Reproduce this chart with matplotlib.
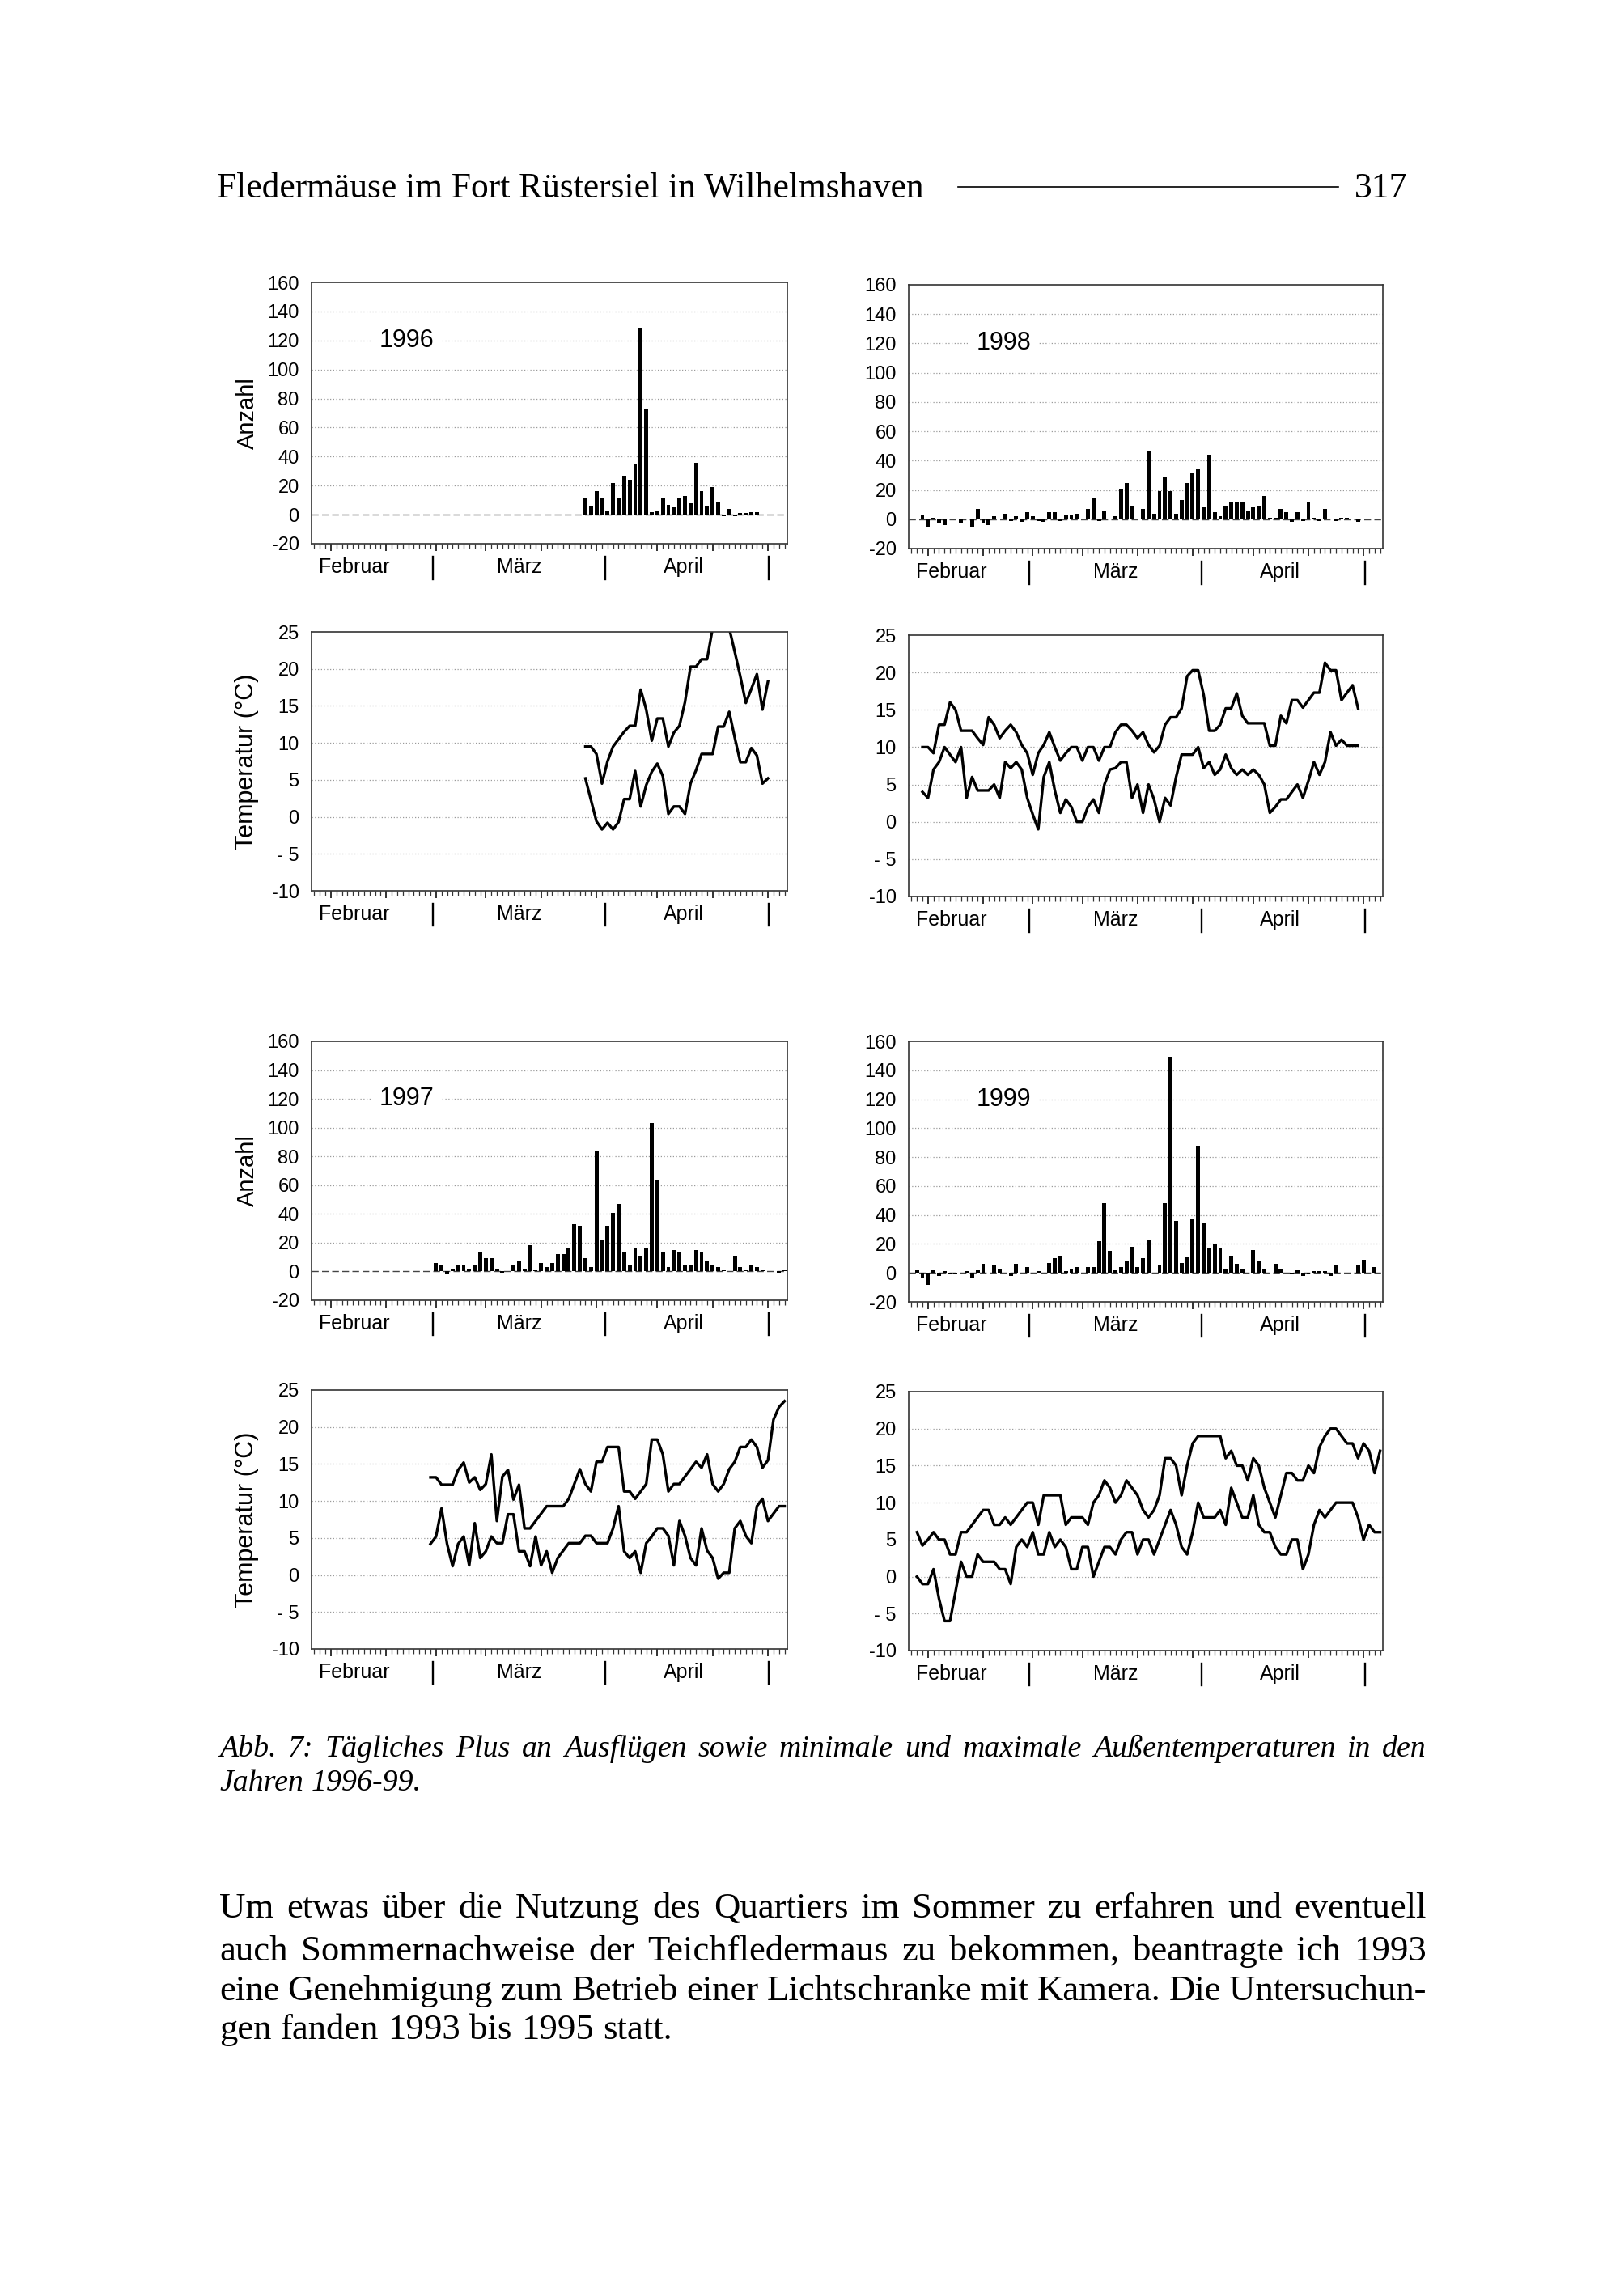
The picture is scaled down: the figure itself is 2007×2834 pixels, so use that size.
import numpy as np
import matplotlib
matplotlib.use("Agg")
import matplotlib.pyplot as plt
import matplotlib.transforms as mtransforms
from matplotlib.lines import Line2D

# x-Achse: ein Tick pro Tag, Index 0 = linker Rand (Anfang Februar)
N_DAYS = 86
MAJOR_DAYS = [3, 13, 22, 31, 41, 51, 62, 72, 82]
MONTHS = ['Februar', 'März', 'April']
MONTH_LABEL_DAY = [7.2, 37.1, 66.8]
MONTH_END_DAY = [21.4, 52.6, 82.2]

# Tägliches Plus an Ausflügen (Anzahl) - erster Tag und Tageswerte
start_1996 = 49
anzahl_1996 = [11, 6, 16, 12, 3, 22, 12, 27, 24, 35, 129, 73, 2, 3, 12, 7, 5, 12, 13, 8,
               36, 16, 6, 19, 9, -1, 4, -1, 1, 1, 2, 2]
start_1997 = 22
anzahl_1997 = [6, 5, -2, 2, 4, 5, 2, 5, 13, 9, 9, 2, -1, 0, 5, 7, 2, 18, 1, 6,
               3, 6, 12, 12, 16, 33, 32, 9, 3, 84, 22, 32, 41, 47, 14, 5, 16, 11, 16, 103,
               63, 14, 3, 15, 14, 5, 5, 15, 13, 7, 5, 3, 1, 0, 11, 3, 1, 4, 3, 1,
               0, 0, -1, 1]
start_1998 = 2
anzahl_1998 = [3, -5, 1, -3, -4, 0, 0, -3, 0, -5, 7, -3, -4, 2, 0, 4, -1, 2, -2, 5,
               2, -1, -2, 5, 5, -1, 3, 3, 4, 0, 7, 14, -1, 6, 0, 2, 21, 25, 9, 0,
               7, 46, 4, 19, 29, 19, 4, 13, 25, 32, 34, 8, 44, 5, 2, 9, 12, 12, 12, 6,
               8, 9, 16, 1, 1, 7, 5, -2, 5, -1, 12, 1, -1, 7, 0, -1, 1, 1, 0, -2, 0]
start_1999 = 1
anzahl_1999 = [2, -3, -8, 2, -2, 1, -1, -1, 0, 1, -3, 2, 6, 0, 5, 3, 0, -2, 6, 0,
               4, 0, 1, 0, 7, 10, 12, 1, 3, 4, 0, 4, 4, 22, 48, 15, 2, 4, 8, 18,
               4, 10, 23, 0, 5, 48, 149, 36, 7, 11, 37, 88, 35, 17, 20, 17, 3, 12, 6, 3,
               0, 16, 8, 3, 0, 6, 3, 0, -1, 2, -2, -1, 1, 1, 1, -2, 5, 0, 0, 0,
               5, 9, 0, 4, 0]

# minimale und maximale Außentemperaturen (°C)
tstart_1996 = 49
tmax_1996 = [9.5, 9.5, 8.5, 4.5, 7.5, 9.5, 10.5, 11.5, 12.3, 12.3, 17.2, 14.5, 10.3, 13.3, 13.3,
             9.5, 11.4, 12.3, 15.5, 20.3, 20.3, 21.3, 21.3, 25.5, 28, 28, 25.5, 22.3, 19, 15.4,
             17.3, 19.3, 14.5, 18.3]
tmin_1996 = [5.2, 2.3, -0.6, -1.7, -0.8, -1.7, -0.7, 2.4, 2.4, 6.2, 1.4, 4.3, 6.1, 7.2, 5.5,
             0.4, 1.4, 1.4, 0.4, 4.5, 6.3, 8.5, 8.5, 8.5, 12.2, 12.2, 14.2, 10.7, 7.4, 7.4,
             9.3, 8.3, 4.5, 5.2]
tstart_1997 = 21
tmax_1997 = [13.2, 13.2, 12.2, 12.2, 12.2, 14.2, 15.2, 12.5, 13.2, 11.5, 12.3, 16.3, 7.3, 13.3, 14.2,
             10.2, 12.2, 6.3, 6.3, 7.3, 8.3, 9.3, 9.3, 9.3, 9.3, 10.3, 12.3, 14.3, 12.3, 11.3,
             15.3, 15.3, 17.3, 17.3, 17.3, 11.3, 11.3, 10.3, 11.3, 12.3, 18.3, 18.3, 16.3, 11.3, 12.3,
             12.3, 13.3, 14.3, 15.3, 14.5, 16.3, 12.3, 11.3, 12.3, 14.3, 15.3, 17.3, 17.3, 18.3, 17.3,
             14.5, 15.5, 21, 22.7, 23.5]
tmin_1997 = [4.2, 5.2, 9, 4.2, 1.2, 4.2, 5.2, 1.3, 7, 2.3, 3.2, 5.2, 4.3, 4.3, 8.2,
             8.2, 3.2, 3.2, 1.2, 5.2, 1.3, 3.2, 0.3, 2.3, 3.3, 4.3, 4.3, 4.3, 5.3, 5.3,
             4.3, 4.3, 4.3, 6.3, 9.3, 3.2, 2.3, 3.2, 0.3, 4.3, 5.2, 6.3, 6.3, 5.3, 1.3,
             7.3, 5.3, 2.3, 1.3, 6.3, 3.3, 2.3, -0.5, 0.3, 0.3, 6.3, 7.3, 5.3, 4.3, 9.3,
             10.3, 7.3, 8.3, 9.3, 9.3]
tstart_1998 = 2
tmax_1998 = [10, 10, 9.2, 13, 13, 16, 15, 12.2, 12.2, 12.2, 11.2, 10.3, 14, 13, 11.2, 12.2, 13, 12, 10.3, 9.2,
             6.3, 9.2, 10.3, 12, 10, 8.2, 9.2, 10, 10, 8.2, 10, 10, 8.2, 10, 10, 12, 13, 13, 12.2, 11.2,
             12, 10.3, 9.3, 10.2, 13, 14, 14, 15.2, 19.5, 20.3, 20.3, 17, 12.2, 12.2, 13, 15.2, 15.2, 17.2, 14.2, 13.2,
             13.2, 13.2, 13.2, 10.2, 10.2, 14.2, 13.2, 16.3, 16.3, 15.3, 16.3, 17.3, 17.3, 21.3, 20.3, 20.3, 16.3, 17.3, 18.3, 15.2]
tmin_1998 = [4, 3.2, 7, 8, 10, 9, 8, 10, 3.2, 6, 4.2, 4.2, 4.2, 5, 3.2, 8, 7.2, 8, 7, 3.2,
             1, -1, 6, 8, 4.2, 1.2, 3, 2, 0, 0, 2, 3, 1.2, 5, 7, 7.2, 8, 8, 3.2, 5,
             1.2, 5, 3, 0, 3.2, 2.2, 6, 9, 9, 9, 10, 7.2, 8, 6.3, 7, 9, 7.2, 6.3, 7, 6.3,
             7, 6.3, 5, 1.2, 2, 3, 3, 4, 5, 3.2, 5.5, 8, 6.3, 8, 12, 10.2, 11, 10.2, 10.2, 10.2]
tstart_1999 = 1
tmax_1999 = [6, 4.2, 5, 6, 5, 5, 3, 3, 6, 6, 7, 8, 9, 9, 7, 7, 8, 7, 8, 9,
             10, 10, 7, 11, 11, 11, 11, 7, 8, 8, 8, 7, 10, 11, 13, 12, 10, 11, 13, 12,
             11, 9, 8, 9, 11, 16, 16, 15, 11, 15, 18, 19, 19, 19, 19, 19, 16, 17, 15, 15,
             13, 16, 15, 12, 10, 8, 11, 14, 14, 13, 13, 15, 14, 17.5, 19, 20, 20, 19, 18, 18,
             16, 18, 17, 14, 17]
tmin_1999 = [0, -1, -1, 1, -3, -6, -6, -2, 2, 0, 0, 3, 2, 2, 2, 1, 1, -1, 4, 5,
             4, 6, 3, 3, 6, 4, 5, 4, 1, 1, 4, 4, 0, 2, 4, 4, 3, 5, 6, 6,
             3, 5, 5, 3, 5, 7, 9, 7, 4, 3, 6, 10, 8, 8, 8, 9, 7, 12, 10, 8,
             8, 11, 7, 6, 6, 4, 3, 3, 5, 5, 1, 3, 7, 9, 8, 9, 10, 10, 10, 10,
             8, 5, 7, 6, 6]

BAR_TICKS = list(range(-20, 161, 20))
TEMP_TICKS = [-10, -5, 0, 5, 10, 15, 20, 25]
TEMP_LABELS = ['-10', '- 5', '0', '5', '10', '15', '20', '25']

SANS = 'Liberation Sans'
SERIF = 'Liberation Serif'
W, H = 2007, 2834

fig = plt.figure(figsize=(W / 100, H / 100), dpi=100)
fig.patch.set_facecolor('white')


def px_axes(x0, y0, x1, y1):
    return fig.add_axes([x0 / W, 1 - y1 / H, (x1 - x0) / W, (y1 - y0) / H])


def month_axis(ax):
    ax.set_xlim(-0.5, N_DAYS - 0.5)
    ax.set_xticks(MAJOR_DAYS)
    ax.set_xticks(np.arange(N_DAYS), minor=True)
    ax.tick_params(axis='x', which='major', direction='out', length=6.5, width=1.3,
                   labelbottom=False, color='#222')
    ax.tick_params(axis='x', which='minor', direction='out', length=4.2, width=0.9, color='#333')
    trans = mtransforms.blended_transform_factory(ax.transData, ax.transAxes)
    for d, m in zip(MONTH_LABEL_DAY, MONTHS):
        ax.text(d, -0.09, m, transform=trans, ha='center', va='center',
                fontsize=18, family=SANS, clip_on=False)
    for d in MONTH_END_DAY:
        ax.plot([d, d], [-0.05, -0.135], transform=trans, color='black', lw=1.7,
                clip_on=False)
    for s in ax.spines.values():
        s.set_color('#333')
        s.set_linewidth(1.2)
    ax.tick_params(axis='y', length=0, pad=11, labelsize=17)
    for lab in ax.get_yticklabels():
        lab.set_family(SANS)


def bar_panel(ax, start, values, year, ylabel):
    days = np.arange(start, start + len(values))
    ax.set_ylim(-20, 160)
    ax.set_yticks(BAR_TICKS)
    ax.set_yticklabels([str(t) for t in BAR_TICKS])
    for t in BAR_TICKS[2:-1]:
        ax.axhline(t, color='#9a9a9a', lw=0.9, ls=(0, (1, 2)), zorder=0)
    ax.axhline(0, color='#444', lw=1.0, ls=(0, (6, 3)), zorder=1)
    ax.bar(days, values, width=0.72, color='black', zorder=2)
    ax.text(0.2, 120, year, transform=mtransforms.blended_transform_factory(ax.transAxes, ax.transData),
            ha='center', va='center', fontsize=22, family=SANS,
            bbox=dict(facecolor='white', edgecolor='none', pad=7), zorder=3)
    month_axis(ax)
    if ylabel:
        ax.set_ylabel('Anzahl', fontsize=21, family=SANS)
        ax.yaxis.set_label_coords(-0.11, 0.5)


def temp_panel(ax, start, tmax, tmin, ylabel):
    ax.set_ylim(-10, 25)
    ax.set_yticks(TEMP_TICKS)
    ax.set_yticklabels(TEMP_LABELS)
    for t in TEMP_TICKS[1:-1]:
        ax.axhline(t, color='#9a9a9a', lw=0.9, ls=(0, (1, 2)), zorder=0)
    ax.plot(np.arange(start, start + len(tmax)), tmax, color='black', lw=2.4, zorder=2)
    ax.plot(np.arange(start, start + len(tmin)), tmin, color='black', lw=2.4, zorder=2)
    month_axis(ax)
    if ylabel:
        ax.set_ylabel('Temperatur (°C)', fontsize=22, family=SANS)
        ax.yaxis.set_label_coords(-0.11, 0.5)


LX0, LX1 = 385, 973
RX0, RX1 = 1123, 1709

bar_panel(px_axes(LX0, 349, LX1, 672), start_1996, anzahl_1996, '1996', True)
bar_panel(px_axes(RX0, 352, RX1, 678), start_1998, anzahl_1998, '1998', False)
temp_panel(px_axes(LX0, 781, LX1, 1101), tstart_1996, tmax_1996, tmin_1996, True)
temp_panel(px_axes(RX0, 785, RX1, 1108), tstart_1998, tmax_1998, tmin_1998, False)
bar_panel(px_axes(LX0, 1287, LX1, 1607), start_1997, anzahl_1997, '1997', True)
bar_panel(px_axes(RX0, 1287, RX1, 1609), start_1999, anzahl_1999, '1999', False)
temp_panel(px_axes(LX0, 1718, LX1, 2038), tstart_1997, tmax_1997, tmin_1997, True)
temp_panel(px_axes(RX0, 1720, RX1, 2040), tstart_1999, tmax_1999, tmin_1999, False)

# ---- Seitentext ----
renderer = fig.canvas.get_renderer()


def text_width(s, size, style='normal'):
    t = fig.text(0, 0, s, fontsize=size, family=SERIF, style=style)
    w = t.get_window_extent(renderer).width
    t.remove()
    return w


def fit_size(s, width, style='normal'):
    return 10 * width / text_width(s, 10, style)


def justify(line, x0, x1, y, size, style='normal', last=False):
    words = line.split()
    widths = [text_width(w, size, style) for w in words]
    if last or len(words) == 1:
        gap = text_width('a a', size, style) - text_width('aa', size, style)
    else:
        gap = (x1 - x0 - sum(widths)) / (len(words) - 1)
    x = x0
    for w, wd in zip(words, widths):
        fig.text(x / W, 1 - y / H, w, fontsize=size, family=SERIF, style=style, va='baseline')
        x += wd + gap


header = 'Fledermäuse im Fort Rüstersiel in Wilhelmshaven'
hsize = fit_size(header, 875)
fig.text(268 / W, 1 - 244 / H, header, fontsize=hsize, family=SERIF, va='baseline')
fig.text(1739 / W, 1 - 244 / H, '317', fontsize=hsize, family=SERIF, va='baseline', ha='right')
fig.add_artist(Line2D([1184 / W, 1654 / W], [1 - 231 / H, 1 - 231 / H], color='black', lw=1.2,
                      transform=fig.transFigure))

caption = ['Abb. 7: Tägliches Plus an Ausflügen sowie minimale und maximale Außentemperaturen in den',
           'Jahren 1996-99.']
csize = fit_size(caption[0], 1492 * 0.965, 'italic')
justify(caption[0], 271, 1763, 2171, csize, 'italic')
justify(caption[1], 271, 1763, 2213, csize, 'italic', last=True)

body = ['Um etwas über die Nutzung des Quartiers im Sommer zu erfahren und eventuell',
        'auch Sommernachweise der Teichfledermaus zu bekommen, beantragte ich 1993',
        'eine Genehmigung zum Betrieb einer Lichtschranke mit Kamera. Die Untersuchun-',
        'gen fanden 1993 bis 1995 statt.']
bsize = fit_size(body[0], 1492 * 0.965)
for i, (line, y) in enumerate(zip(body, [2370, 2423, 2472, 2520])):
    justify(line, 271, 1763, y, bsize, last=(i == len(body) - 1))

fig.savefig('out.png', dpi=100, facecolor='white')
